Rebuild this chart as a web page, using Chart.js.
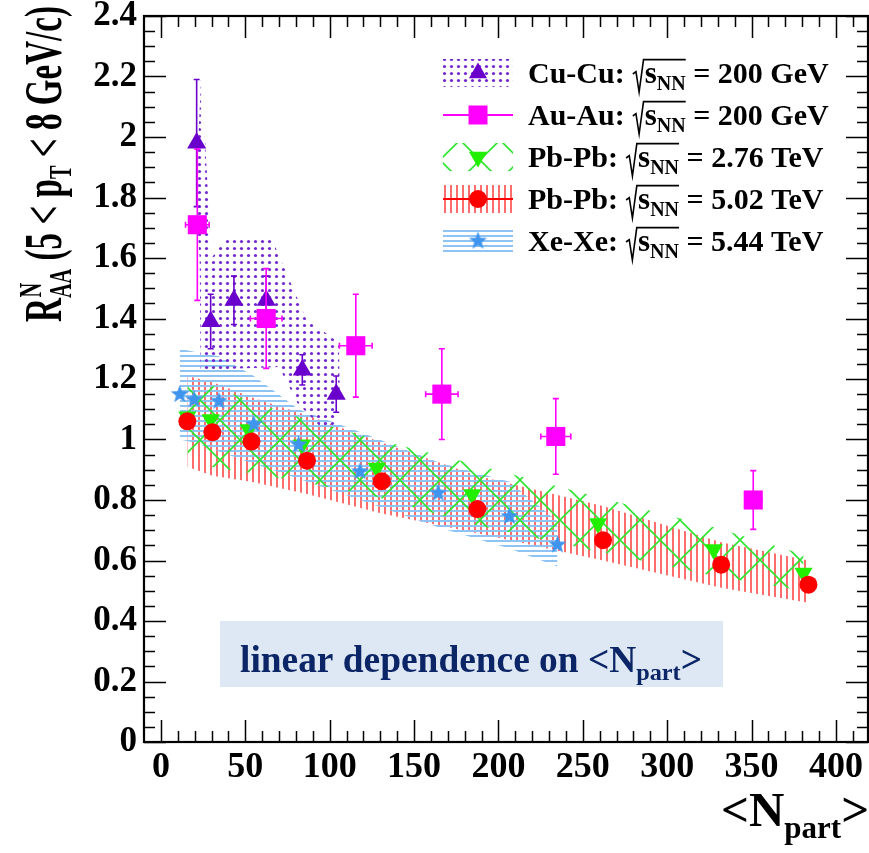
<!DOCTYPE html>
<html>
<head>
<meta charset="utf-8">
<script src="https://cdn.jsdelivr.net/npm/chart.js@4.4.0/dist/chart.umd.min.js"></script>
<style>
  html, body { margin: 0; padding: 0; background: #fff; }
  canvas { display: block; }
</style>
</head>
<body>
<canvas id="chart" width="869" height="853"></canvas>
<script>
// values
const xTicks = [0, 50, 100, 150, 200, 250, 300, 350, 400];
const xTickLabels = ['0', '50', '100', '150', '200', '250', '300', '350', '400'];
const yTicks = [0, 0.2, 0.4, 0.6, 0.8, 1, 1.2, 1.4, 1.6, 1.8, 2, 2.2, 2.4];
const yTickLabels = ['0', '0.2', '0.4', '0.6', '0.8', '1', '1.2', '1.4', '1.6', '1.8', '2', '2.2', '2.4'];

// Cu-Cu 200 GeV
const cuN = [21.2, 29.5, 43.3, 62.4, 83.8, 103.9];
const cuR = [1.98, 1.39, 1.46, 1.46, 1.23, 1.15];
const cuErr = [0.21, 0.09, 0.08, 0.08, 0.05, 0.06];
const cuBandUpN = [20.5, 24, 28.5, 30, 38, 66, 86, 105.5, 106];
const cuBandUpR = [1.78, 2.22, 1.75, 1.60, 1.66, 1.66, 1.40, 1.32, 1.17];
const cuBandLoN = [20.5, 23, 23.5, 70, 81, 95, 103, 106];
const cuBandLoR = [1.78, 1.60, 1.23, 1.24, 1.12, 1.04, 1.05, 1.17];

// Au-Au 200 GeV
const auN = [21.6, 62.4, 115.5, 166.5, 234, 351];
const auR = [1.71, 1.40, 1.31, 1.15, 1.01, 0.80];
const auErrY = [0.25, 0.165, 0.17, 0.15, 0.125, 0.097];
const auErrX = [7, 9.4, 9.7, 9.6, 8.9, 5];

// Pb-Pb 2.76 TeV
const pb276N = [15.7, 29.5, 52, 83.6, 127.9, 184.5, 259, 327.6, 380.8];
const pb276R = [1.075, 1.066, 1.033, 0.983, 0.906, 0.818, 0.722, 0.636, 0.559];
const pb276Up = [1.20, 1.18, 1.13, 1.07, 1.00, 0.92, 0.81, 0.71, 0.62];
const pb276Lo = [0.92, 0.91, 0.89, 0.86, 0.81, 0.72, 0.63, 0.55, 0.50];

// Pb-Pb 5.02 TeV
const pb502N = [15.7, 30.5, 53.7, 86.6, 130.9, 187.5, 262, 332, 383.7];
const pb502R = [1.06, 1.024, 0.993, 0.93, 0.862, 0.77, 0.667, 0.586, 0.52];
const pb502Up = [1.21, 1.19, 1.14, 1.08, 0.99, 0.88, 0.78, 0.66, 0.60];
const pb502Lo = [0.91, 0.88, 0.86, 0.82, 0.755, 0.69, 0.60, 0.51, 0.46];

// Xe-Xe 5.44 TeV
const xeN = [11.2, 19.7, 34.4, 55.1, 81.6, 118, 164.3, 206.6, 235];
const xeR = [1.149, 1.132, 1.127, 1.05, 0.983, 0.894, 0.823, 0.746, 0.652];
const xeUp = [1.30, 1.29, 1.275, 1.21, 1.10, 1.025, 0.925, 0.86, 0.73];
const xeLo = [1.00, 0.99, 0.96, 0.92, 0.87, 0.80, 0.71, 0.64, 0.58];

const FONT = "'Liberation Serif', 'Times New Roman', serif";
const C_CU = '#6a00cc', C_AU = '#ff00ff', C_G = '#22ee00', C_R = '#ff0000', C_XE = '#3f95ee';

const canvas = document.getElementById('chart');
const ctx = canvas.getContext('2d');

const pts = (xs, ys) => xs.map((x, i) => ({ x, y: ys[i] }));

function tile(w, h, paint) {
  const c = document.createElement('canvas');
  c.width = w; c.height = h;
  paint(c.getContext('2d'));
  return ctx.createPattern(c, 'repeat');
}
const dotPat = tile(7, 7, g => { g.fillStyle = '#7329cc'; g.beginPath(); g.arc(3.5, 3.5, 1.6, 0, Math.PI * 2); g.fill(); });
const vlinePat = tile(6, 4, g => { g.fillStyle = '#ff6c6c'; g.fillRect(0, 0, 2, 4); });
const hlinePat = tile(4, 5, g => { g.fillStyle = '#8ec3f3'; g.fillRect(0, 0, 4, 2); });
const xPat = tile(40, 40, g => {
  g.strokeStyle = '#2ee62e'; g.lineWidth = 1.6;
  g.beginPath(); g.moveTo(-2, -2); g.lineTo(42, 42); g.moveTo(42, -2); g.lineTo(-2, 42); g.stroke();
});

function starImage(r, color) {
  const s = Math.ceil(r * 2 + 2);
  const c = document.createElement('canvas');
  c.width = c.height = s;
  const g = c.getContext('2d');
  g.fillStyle = color;
  g.beginPath();
  for (let i = 0; i < 10; i++) {
    const a = -Math.PI / 2 + i * Math.PI / 5;
    const rr = i % 2 ? r * 0.42 : r;
    g.lineTo(s / 2 + rr * Math.cos(a), s / 2 + rr * Math.sin(a));
  }
  g.closePath(); g.fill();
  return c;
}
const star = starImage(9.5, C_XE);

function band(up, lo, pattern) {
  return [
    { data: up, showLine: true, pointRadius: 0, borderWidth: 0, borderColor: 'rgba(0,0,0,0)', backgroundColor: pattern, fill: '+1' },
    { data: lo, showLine: true, pointRadius: 0, borderWidth: 0, borderColor: 'rgba(0,0,0,0)', fill: false }
  ];
}

// rich text: parts {t, f, dy} or {sqrt: [...], f}
function richWidth(c, parts) {
  let w = 0;
  for (const p of parts) {
    if (p.sqrt) w += p.f * 0.42 + richWidth(c, p.sqrt);
    else { c.font = `bold ${p.f}px ${FONT}`; w += c.measureText(p.t).width; }
  }
  return w;
}
function drawRich(c, parts, x, y) {
  for (const p of parts) {
    if (p.sqrt) {
      const inner = richWidth(c, p.sqrt);
      const rw = p.f * 0.42;
      const top = y - p.f * 0.78, bot = y + p.f * 0.3;
      c.save();
      c.strokeStyle = c.fillStyle;
      c.lineWidth = 1.6;
      c.beginPath();
      c.moveTo(x + rw * 0.05, y - p.f * 0.3);
      c.lineTo(x + rw * 0.3, y - p.f * 0.38);
      c.lineTo(x + rw * 0.55, bot);
      c.lineTo(x + rw * 0.9, top);
      c.lineTo(x + rw + inner, top);
      c.stroke();
      c.restore();
      x = drawRich(c, p.sqrt, x + rw, y);
    } else {
      c.font = `bold ${p.f}px ${FONT}`;
      c.fillText(p.t, x, y + (p.dy || 0));
      x += c.measureText(p.t).width;
    }
  }
  return x;
}

function marker(c, kind, x, y) {
  c.save();
  if (kind === 'tri' || kind === 'itri') {
    const r = 10.5, s = kind === 'tri' ? 1 : -1;
    c.fillStyle = kind === 'tri' ? C_CU : C_G;
    c.beginPath();
    c.moveTo(x, y - s * r);
    c.lineTo(x + r * 0.866, y + s * r * 0.5);
    c.lineTo(x - r * 0.866, y + s * r * 0.5);
    c.closePath(); c.fill();
  } else if (kind === 'sq') {
    c.fillStyle = C_AU; c.fillRect(x - 9.5, y - 9.5, 19, 19);
  } else if (kind === 'circ') {
    c.fillStyle = C_R; c.beginPath(); c.arc(x, y, 9, 0, Math.PI * 2); c.fill();
  } else if (kind === 'star') {
    c.drawImage(star, x - star.width / 2, y - star.height / 2);
  }
  c.restore();
}

const legendRows = [
  { label: 'Cu-Cu: ', energy: ' = 200 GeV', swatch: dotPat, line: null, mark: 'tri' },
  { label: 'Au-Au: ', energy: ' = 200 GeV', swatch: null, line: C_AU, mark: 'sq' },
  { label: 'Pb-Pb: ', energy: ' = 2.76 TeV', swatch: xPat, line: null, mark: 'itri' },
  { label: 'Pb-Pb: ', energy: ' = 5.02 TeV', swatch: vlinePat, line: C_R, mark: 'circ' },
  { label: 'Xe-Xe: ', energy: ' = 5.44 TeV', swatch: hlinePat, line: null, mark: 'star' }
];

const decorations = {
  id: 'decorations',
  beforeDatasetsDraw(chart) {
    const c = chart.ctx;
    c.save();
    c.fillStyle = '#dde8f4';
    c.fillRect(220, 621, 503, 66);
    c.fillStyle = '#0b2566';
    const parts = [
      { t: 'linear dependence on <N', f: 37 },
      { t: 'part', f: 24, dy: 8 },
      { t: '>', f: 37 }
    ];
    const w = richWidth(c, parts);
    c.translate(240, 672);
    c.scale(462 / w, 1);
    drawRich(c, parts, 0, 0);
    c.restore();
  },
  beforeDatasetDraw(chart, args) {
    const c = chart.ctx, xs = chart.scales.x, ys = chart.scales.y;
    const bars = (xv, yv, ey, ex, color) => {
      c.save();
      c.strokeStyle = color; c.lineWidth = 1.6;
      xv.forEach((x, i) => {
        const px = xs.getPixelForValue(x), py = ys.getPixelForValue(yv[i]);
        const t = ys.getPixelForValue(yv[i] + ey[i]), b = ys.getPixelForValue(yv[i] - ey[i]);
        c.beginPath();
        c.moveTo(px, t); c.lineTo(px, b);
        c.moveTo(px - 3, t); c.lineTo(px + 3, t);
        c.moveTo(px - 3, b); c.lineTo(px + 3, b);
        if (ex) {
          const l = xs.getPixelForValue(x - ex[i]), r = xs.getPixelForValue(x + ex[i]);
          c.moveTo(l, py); c.lineTo(r, py);
          c.moveTo(l, py - 3); c.lineTo(l, py + 3);
          c.moveTo(r, py - 3); c.lineTo(r, py + 3);
        }
        c.stroke();
      });
      c.restore();
    };
    if (args.index === 3) bars(auN, auR, auErrY, auErrX, C_AU);
    if (args.index === 4) bars(cuN, cuR, cuErr, null, C_CU);
  },
  afterDraw(chart) {
    const c = chart.ctx, a = chart.chartArea, xs = chart.scales.x, ys = chart.scales.y;
    c.save();
    // frame and inward ticks on all sides
    c.strokeStyle = '#000';
    c.lineWidth = 1.5;
    c.beginPath();
    for (let v = 0; v <= 410; v += 10) {
      const px = Math.round(xs.getPixelForValue(v)) + 0.5;
      const len = v % 50 === 0 ? 22 : 11;
      c.moveTo(px, a.bottom); c.lineTo(px, a.bottom - len);
      c.moveTo(px, a.top); c.lineTo(px, a.top + len);
    }
    for (let k = 0; k <= 48; k++) {
      const py = Math.round(ys.getPixelForValue(k * 0.05)) + 0.5;
      const len = k % 4 === 0 ? 22 : 11;
      c.moveTo(a.left, py); c.lineTo(a.left + len, py);
      c.moveTo(a.right, py); c.lineTo(a.right - len, py);
    }
    c.stroke();
    c.lineWidth = 2.2;
    c.strokeRect(a.left, a.top, a.right - a.left, a.bottom - a.top);

    // legend
    legendRows.forEach((r, i) => {
      const cy = 73 + i * 42;
      if (r.swatch) { c.fillStyle = r.swatch; c.fillRect(443, cy - 14, 70, 28); }
      if (r.line) {
        c.strokeStyle = r.line; c.lineWidth = 2;
        c.beginPath(); c.moveTo(443, cy); c.lineTo(513, cy); c.stroke();
      }
      marker(c, r.mark, 478, cy);
      c.fillStyle = '#000';
      drawRich(c, [
        { t: r.label, f: 30 },
        { sqrt: [{ t: 's', f: 31 }, { t: 'NN', f: 20, dy: 7 }], f: 30 },
        { t: r.energy, f: 30 }
      ], 528, cy + 10);
    });

    // y title: R^N_AA (5 < p_T < 8 GeV/c), rotated
    c.fillStyle = '#000';
    const yt = [
      { t: 'R', f: 52 },
      { t: 'AA', f: 32, dy: 10 },
      { t: ' (5 < p', f: 52 },
      { t: 'T', f: 32, dy: 10 },
      { t: ' < 8 GeV/c)', f: 52 }
    ];
    const yw = richWidth(c, yt);
    c.save();
    c.translate(61, 322);
    c.rotate(-Math.PI / 2);
    c.scale(316 / yw, 1);
    c.font = `bold 52px ${FONT}`;
    const rW = c.measureText('R').width;
    c.font = `bold 32px ${FONT}`;
    c.fillText('N', rW + 1, -20);
    drawRich(c, yt, 0, 0);
    c.restore();

    // x title
    drawRich(c, [
      { t: '<N', f: 49 },
      { t: 'part', f: 31, dy: 12 },
      { t: '>', f: 49 }
    ], 721, 826);
    c.restore();
  }
};

new Chart(ctx, {
  type: 'line',
  data: {
    datasets: [
      { data: pts(xeN, xeR), showLine: false, pointStyle: star, pointRadius: 9 },
      { data: pts(pb502N, pb502R), showLine: false, pointStyle: 'circle', pointRadius: 9, backgroundColor: C_R, borderColor: C_R, borderWidth: 0 },
      { data: pts(pb276N, pb276R), showLine: false, pointStyle: 'triangle', rotation: 180, pointRadius: 10.5, backgroundColor: C_G, borderColor: C_G, borderWidth: 0 },
      { data: pts(auN, auR), showLine: false, pointStyle: 'rect', pointRadius: 13.5, backgroundColor: C_AU, borderColor: C_AU, borderWidth: 0 },
      { data: pts(cuN, cuR), showLine: false, pointStyle: 'triangle', pointRadius: 11, backgroundColor: C_CU, borderColor: C_CU, borderWidth: 0 },
      ...band(pts(pb276N, pb276Up), pts(pb276N, pb276Lo), xPat),
      ...band(pts(cuBandUpN, cuBandUpR), pts(cuBandLoN, cuBandLoR), dotPat),
      ...band(pts(xeN, xeUp), pts(xeN, xeLo), hlinePat),
      ...band(pts(pb502N, pb502Up), pts(pb502N, pb502Lo), vlinePat)
    ]
  },
  options: {
    responsive: false,
    animation: false,
    events: [],
    layout: { autoPadding: false, padding: { top: 16, right: 1, left: 0, bottom: 0 } },
    plugins: {
      legend: { display: false },
      tooltip: { enabled: false },
      filler: { propagate: false }
    },
    scales: {
      x: {
        type: 'linear', min: -10, max: 419,
        grid: { display: false, drawTicks: false },
        border: { display: false },
        afterBuildTicks: s => { s.ticks = xTicks.map(v => ({ value: v })); },
        afterFit: s => { s.height = 111; s.paddingLeft = 0; s.paddingRight = 0; },
        ticks: { autoSkip: false, maxRotation: 0, padding: 4, color: '#000',
                 font: { family: FONT, weight: 'bold', size: 36 },
                 callback: (v, i) => xTickLabels[i] }
      },
      y: {
        type: 'linear', min: 0, max: 2.4,
        grid: { display: false, drawTicks: false },
        border: { display: false },
        afterBuildTicks: s => { s.ticks = yTicks.map(v => ({ value: v })); },
        afterFit: s => { s.width = 144; s.paddingTop = 0; s.paddingBottom = 0; },
        ticks: { autoSkip: false, padding: 7, color: '#000',
                 font: { family: FONT, weight: 'bold', size: 35 },
                 callback: (v, i) => yTickLabels[i] }
      }
    }
  },
  plugins: [decorations]
});
</script>
</body>
</html>
